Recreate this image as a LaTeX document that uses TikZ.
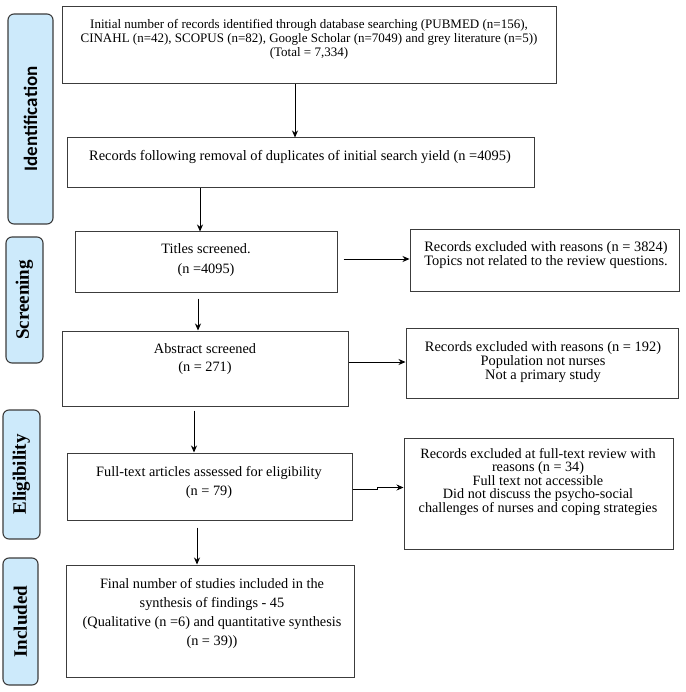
\documentclass[tikz,border=0pt]{standalone}
\usepackage{fontspec}
\setmainfont{Liberation Serif}
\newfontfamily\sidesans{Carlito}
\usetikzlibrary{arrows.meta}
\definecolor{pillfill}{HTML}{CDEAFB}
\definecolor{edge}{HTML}{3C3C3C}
\tikzset{
  box/.style={draw=edge, line width=1pt, rectangle, inner sep=0pt},
  pill/.style={draw=edge, line width=1.1pt, fill=pillfill, rounded corners=6pt, inner sep=0pt},
  txt/.style={inner sep=0pt, align=center, anchor=north},
  arr/.style={draw=black, line width=0.8pt, -{Stealth[length=7pt,width=6pt]}},
  sidelab/.style={rotate=90, font=\fontsize{19}{22}\selectfont\bfseries}
}
\begin{document}
\begin{tikzpicture}[x=1pt,y=-1pt]
\useasboundingbox (0,0) rectangle (685,692);
% side pills
\node[pill, minimum width=45pt, minimum height=210pt] (pid) at (30.5,119) {};
\node[sidelab, font=\fontsize{19}{22}\selectfont\sidesans\bfseries] (lid) at (pid.center) {Identification};
\node[pill, minimum width=37pt, minimum height=126pt] (psc) at (24.5,300) {};
\node[sidelab] (lsc) at (psc.center) {Screening};
\node[pill, minimum width=37pt, minimum height=129pt] (pel) at (21.5,474.5) {};
\node[sidelab] (lel) at (pel.center) {Eligibility};
\node[pill, minimum width=35pt, minimum height=127pt] (pin) at (20.5,621.5) {};
\node[sidelab] (lin) at (pin.center) {Included};
% main boxes
\node[box, minimum width=494pt, minimum height=77pt] (b1) at (309,45.5) {};
\node[txt, font=\fontsize{13}{14}\selectfont] (t1) at (309,19) {Initial number of records identified through database searching (PUBMED (n=156),\\CINAHL (n=42), SCOPUS (n=82), Google Scholar (n=7049) and grey literature (n=5))\\(Total = 7,334)};
\node[box, minimum width=467pt, minimum height=50pt] (b2) at (300.5,163) {};
\node[txt, font=\fontsize{14.4}{18}\selectfont] (t2) at (300,150.3) {Records following removal of duplicates of initial search yield (n =4095)};
\node[box, minimum width=262pt, minimum height=60pt] (b3) at (206,262) {};
\node[txt, font=\fontsize{14.3}{20}\selectfont] (t3) at (206,243.3) {Titles screened.\\(n =4095)};
\node[box, minimum width=286pt, minimum height=75pt] (b4) at (205,368.5) {};
\node[txt, font=\fontsize{14.3}{18}\selectfont] (t4) at (205,343.3) {Abstract screened\\(n = 271)};
\node[box, minimum width=285pt, minimum height=67pt] (b5) at (209.5,486.5) {};
\node[txt, font=\fontsize{14.3}{19}\selectfont] (t5) at (209,466.3) {Full-text articles assessed for eligibility\\(n = 79)};
\node[box, minimum width=288pt, minimum height=112pt] (b6) at (210,621) {};
\node[txt, font=\fontsize{14.3}{19}\selectfont] (t6) at (212,578.3) {Final number of studies included in the\\synthesis of findings - 45\\(Qualitative (n =6) and quantitative synthesis\\(n = 39))};
% exclusion boxes
\node[box, minimum width=269pt, minimum height=61pt] (e1) at (544.5,260.5) {};
\node[txt, font=\fontsize{14.4}{14.2}\selectfont] (te1) at (546,241.3) {Records excluded with reasons (n = 3824)\\Topics not related to the review questions.};
\node[box, minimum width=272pt, minimum height=70pt] (e2) at (542,363) {};
\node[txt, font=\fontsize{14.4}{13.8}\selectfont] (te2) at (543,341.3) {Records excluded with reasons (n = 192)\\Population not nurses\\Not a primary study};
\node[box, minimum width=269pt, minimum height=111pt] (e3) at (538.5,493.5) {};
\node[txt, font=\fontsize{14.2}{13.4}\selectfont] (te3) at (538,448.3) {Records excluded at full-text review with\\reasons (n = 34)\\Full text not accessible\\Did not discuss the psycho-social\\challenges of nurses and coping strategies};
% vertical arrows
\draw[arr] ([xshift=-14pt]b1.south) -- ([xshift=-14pt]b1.south |- b2.north);
\draw[arr] ([xshift=-100.5pt]b2.south) -- ([xshift=-100.5pt]b2.south |- b3.north);
\draw[arr] ([xshift=-8pt,yshift=-6pt]b3.south) -- ([xshift=-8pt]b3.south |- b4.north);
\draw[arr] ([xshift=-11pt,yshift=-4pt]b4.south) -- ([xshift=-11pt]b4.south |- b5.north);
\draw[arr] ([xshift=-12.5pt,yshift=-7pt]b5.south) -- ([xshift=-12.5pt]b5.south |- b6.north);
% horizontal arrows
\draw[arr] ([xshift=6pt,yshift=3pt]b3.east) -- ([yshift=3pt]b3.east -| e1.west);
\draw[arr] ([yshift=6.5pt]b4.east) -- ([yshift=6.5pt]b4.east -| e2.west);
\coordinate (j1) at (377,489);
\coordinate (j2) at (377,487.5);
\draw[arr] ([yshift=-2.5pt]b5.east) -- (j1) -- (j2) -- (j2 -| e3.west);
\end{tikzpicture}
\end{document}
